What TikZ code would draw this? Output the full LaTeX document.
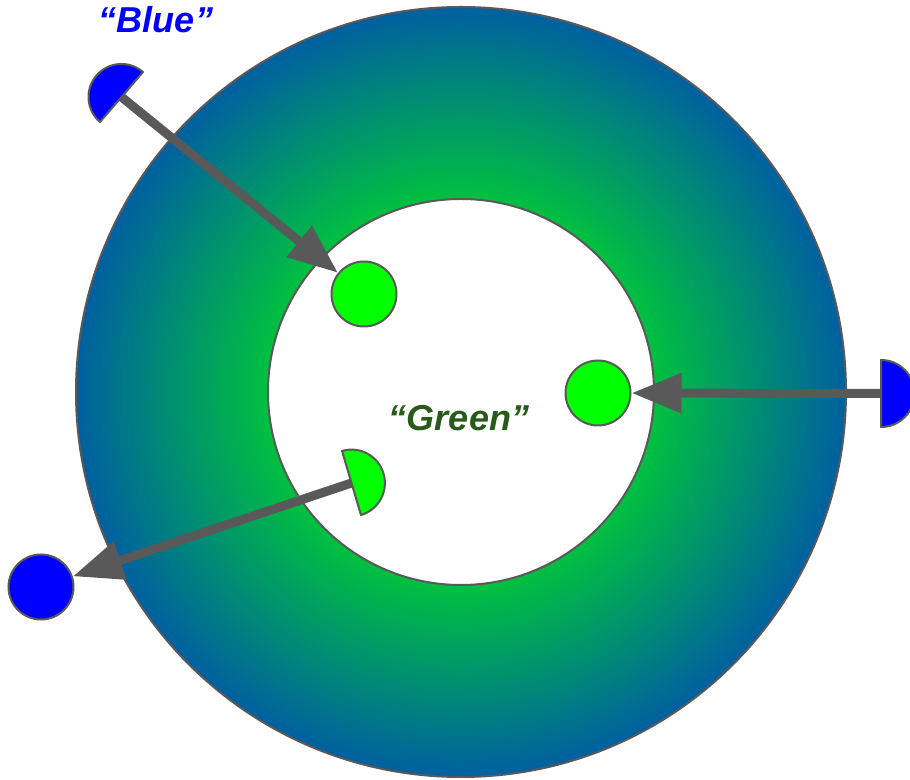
\documentclass[tikz,border=0pt]{standalone}
\usepackage{fontspec}
\setmainfont{Liberation Sans}
\usetikzlibrary{arrows.meta}
\definecolor{ringin}{RGB}{0,192,64}
\definecolor{ringout}{RGB}{0,96,160}
\definecolor{edgegray}{RGB}{89,89,89}
\definecolor{brightgreen}{RGB}{0,255,0}
\definecolor{pureblue}{RGB}{0,0,255}
\definecolor{labelgreen}{RGB}{40,90,25}
\pgfdeclareradialshading{ringshade}{\pgfpointorigin}{color(0bp)=(ringin); color(12.55bp)=(ringin); color(25bp)=(ringout); color(50bp)=(ringout)}
\begin{document}
\begin{tikzpicture}[x=1pt,y=1pt,
  disc/.style={circle, draw=edgegray, line width=2pt, minimum size=65pt, inner sep=0pt},
  halfdisc/.style={draw=edgegray, line width=2pt, line join=round},
  link/.style={draw=edgegray, line width=9pt, -{Triangle[length=50pt,width=38pt]}},
  lbl/.style={font=\fontsize{36}{40}\selectfont\bfseries\itshape, inner sep=0pt, anchor=base}]
\useasboundingbox (0,0) rectangle (910,779);
\coordinate (c) at (461,387);
\path[shading=ringshade, draw=edgegray, line width=2pt] (c) circle[radius=385];
\path[fill=white, draw=edgegray, line width=2pt] (c) circle[radius=193];
% full discs
\node[disc, fill=brightgreen] (gA) at (364,485) {};
\node[disc, fill=brightgreen] (gB) at (598,386) {};
\node[disc, fill=pureblue] (bC) at (41,192) {};
% half discs
\coordinate (hTL) at (121.5,682);
\coordinate (hR) at (881,385.5);
\coordinate (hG) at (351.5,296);
\draw[halfdisc, fill=pureblue] (hTL) ++(49.3:33) arc[start angle=49.3, end angle=229.3, radius=33] -- cycle;
\draw[halfdisc, fill=pureblue] (hR) ++(-90:33.5) arc[start angle=-90, end angle=90, radius=33.5] -- cycle;
\draw[halfdisc, fill=brightgreen] (hG) ++(-73.5:33.4) arc[start angle=-73.5, end angle=106.5, radius=33.4] -- cycle;
% connectors
\draw[link] (hTL) -- (gA);
\draw[link] (hR) -- (gB);
\draw[link] (hG) -- (bC);
% labels
\node[lbl, text=pureblue] (blueLabel) at (156,746) {“Blue”};
\node[lbl, text=labelgreen] (greenLabel) at (459,348) {“Green”};
\end{tikzpicture}
\end{document}
